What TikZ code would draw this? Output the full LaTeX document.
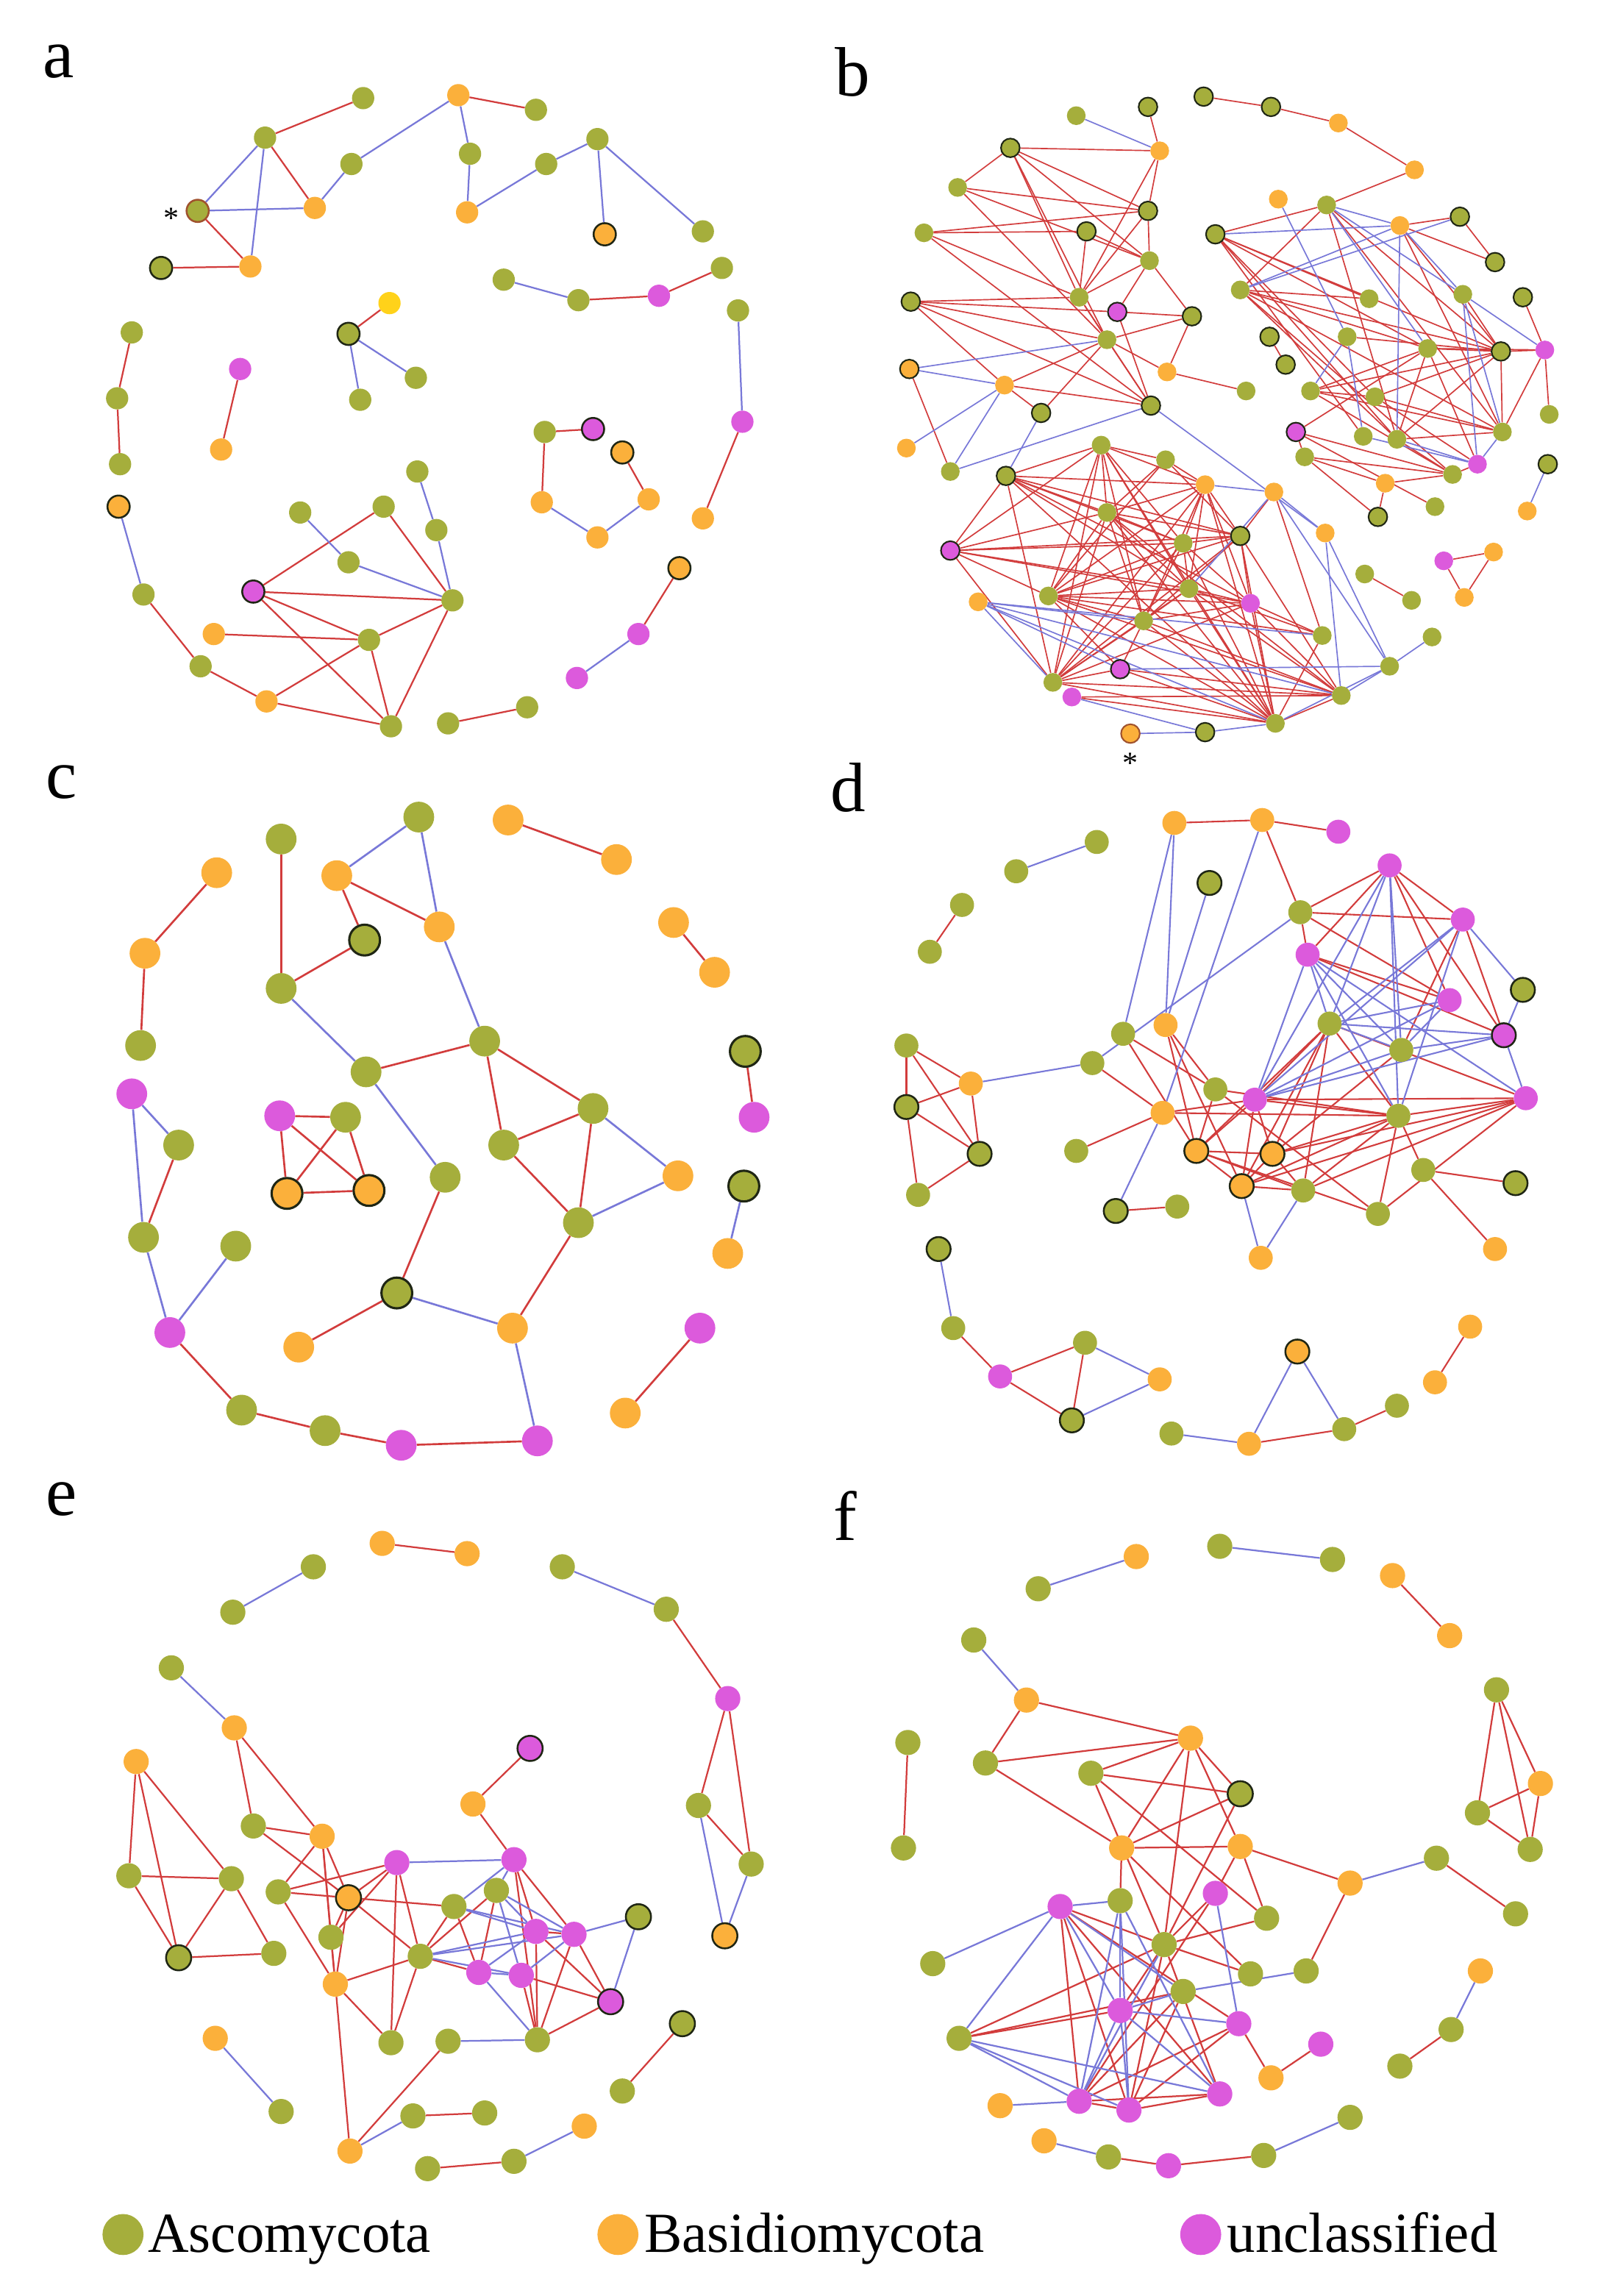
\documentclass[tikz,border=0pt]{standalone}
\usepackage{fontspec}
\setmainfont{Liberation Serif}
\definecolor{asc}{HTML}{A5AE3C}
\definecolor{bas}{HTML}{FBB03B}
\definecolor{unc}{HTML}{DC5ADC}
\definecolor{yel}{HTML}{FFD21A}
\definecolor{redE}{HTML}{D23C3C}
\definecolor{bluE}{HTML}{7878D8}
\definecolor{darkO}{HTML}{1F2614}
\definecolor{brownO}{HTML}{A0522D}
\pgfdeclarelayer{back}
\pgfdeclarelayer{edges}
\pgfsetlayers{back,edges,main}
\tikzset{
  nd/.style={circle,inner sep=0pt,minimum size=0.8cm},
  nA/.style={nd,fill=asc},
  nB/.style={nd,fill=bas},
  nU/.style={nd,fill=unc},
  nY/.style={nd,fill=yel},
  nAo/.style={nd,fill=asc,draw=darkO,line width=1.8pt},
  nBo/.style={nd,fill=bas,draw=darkO,line width=1.8pt},
  nUo/.style={nd,fill=unc,draw=darkO,line width=1.8pt},
  nAr/.style={nd,fill=asc,draw=brownO,line width=1.8pt},
  nBr/.style={nd,fill=bas,draw=brownO,line width=1.8pt},
  re/.style={draw=redE,line width=1.6pt},
  be/.style={draw=bluE,line width=1.6pt},
  plab/.style={font=\fontsize{68}{70}\selectfont,inner sep=0pt},
  lgt/.style={font=\fontsize{55}{60}\selectfont,inner sep=0pt},
  star/.style={font=\fontsize{30}{30}\selectfont,inner sep=0pt}
}
\newcommand\PanelNodes[1]{\foreach \n/\x/\y/\s in {#1}{\edef\tmp{\noexpand\node[\s] (\n) at (\x,\y) {};}\tmp}}
\newcommand\RedEdges[1]{\foreach \u/\v in {#1}{\draw[re] (\u) -- (\v);}}
\newcommand\BlueEdges[1]{\foreach \u/\v in {#1}{\draw[be] (\u) -- (\v);}}
\begin{document}
\begin{tikzpicture}[x=0.05cm,y=-0.05cm]
\useasboundingbox (0,0) rectangle (1093,1568);
\begin{pgfonlayer}{back}
\fill[white] (0,0) rectangle (1093,1568);
\end{pgfonlayer}

% panel labels
\node[plab] (la) at (40,42) {a};
\node[plab] (lb) at (582,49) {b};
\node[plab] (lc) at (42,534) {c};
\node[plab] (ld) at (579,538) {d};
\node[plab] (le) at (42,1024) {e};
\node[plab] (lf) at (577,1035) {f};

% ---------------- panel a
\begin{scope}[nd/.append style={minimum size=0.76cm}, re/.append style={line width=1.6pt}, be/.append style={line width=1.6pt}]
\PanelNodes{a1/248/67/nA,a2/313/65/nB,a3/366/75/nA,a4/181/94/nA,a5/240/112/nA,a6/321/105/nA,a7/373/112/nA,a8/408/95/nA,a9/135/144/nAr,a10/215/142/nB,a11/319/145/nB,a12/413/160/nBo,a13/480/158/nA,a14/110/183/nAo,a15/171/182/nB,a16/344/191/nA,a17/395/205/nA,a18/450/202/nU,a19/493/183/nA,a20/266/207/nY,a21/238/228/nAo,a22/90/227/nA,a23/164/252/nU,a24/284/258/nA,a25/246/273/nA,a26/504/212/nA,a27/80/272/nA,a28/151/307/nB,a29/372/295/nA,a30/405/293/nUo,a31/425/309/nBo,a32/507/288/nU,a33/82/317/nA,a34/285/322/nA,a35/81/346/nBo,a36/370/343/nB,a37/443/341/nB,a38/205/350/nA,a39/262/346/nA,a40/298/362/nA,a41/480/354/nB,a42/408/367/nB,a43/238/384/nA,a44/173/404/nUo,a45/309/410/nA,a46/98/406/nA,a47/464/388/nBo,a48/146/433/nB,a49/252/437/nA,a50/436/433/nU,a51/137/455/nA,a52/394/463/nU,a53/182/479/nB,a54/360/483/nA,a55/306/494/nA,a56/267/496/nA}
\begin{pgfonlayer}{edges}
\RedEdges{a1/a4,a2/a3,a4/a10,a9/a15,a14/a15,a18/a17,a18/a19,a32/a41,a20/a21,a23/a28,a22/a27,a27/a33,a29/a30,a29/a36,a37/a31,a46/a51,a51/a53,a53/a56,a53/a49,a39/a44,a39/a45,a44/a45,a44/a49,a44/a56,a48/a49,a49/a45,a49/a56,a45/a56,a55/a54,a47/a50}
\BlueEdges{a2/a5,a2/a6,a4/a9,a4/a15,a9/a10,a5/a10,a6/a11,a11/a7,a7/a8,a8/a12,a8/a13,a16/a17,a26/a32,a21/a24,a21/a25,a36/a42,a42/a37,a35/a46,a38/a43,a43/a45,a34/a40,a40/a45,a50/a52}
\end{pgfonlayer}
\node[star] (sa) at (117,149) {*};
\end{scope}

% ---------------- panel b
\begin{scope}[nd/.append style={minimum size=0.64cm}, re/.append style={line width=1.2pt}, be/.append style={line width=1.2pt}, nAo/.append style={line width=1.5pt}, nUo/.append style={line width=1.5pt}, nBo/.append style={line width=1.5pt}, nBr/.append style={line width=1.5pt}]
\PanelNodes{b1/735/79/nA,b2/784/73/nAo,b3/822/66/nAo,b4/868/73/nAo,b5/914/84/nB,b6/966/116/nB,b7/792/103/nB,b8/690/101/nAo,b9/654/128/nA,b10/784/144/nAo,b11/742/158/nAo,b12/631/159/nA,b13/785/178/nA,b14/737/203/nA,b15/622/206/nAo,b16/763/213/nUo,b17/814/216/nAo,b18/756/232/nA,b19/621/252/nBo,b20/686/263/nB,b21/797/254/nB,b22/851/267/nA,b23/711/282/nAo,b24/786/277/nAo,b25/619/306/nB,b26/649/322/nA,b27/873/136/nB,b28/906/140/nA,b29/830/160/nAo,b30/956/154/nB,b31/997/148/nAo,b32/1021/179/nAo,b33/847/198/nA,b34/935/204/nA,b35/999/201/nA,b36/1040/203/nAo,b37/867/230/nAo,b38/920/230/nA,b39/975/238/nA,b40/1025/240/nAo,b41/1055/239/nU,b42/878/249/nAo,b43/895/267/nA,b44/939/271/nA,b45/1058/283/nA,b46/885/295/nUo,b47/931/298/nA,b48/954/300/nA,b49/1026/295/nA,b50/891/312/nA,b51/1009/317/nU,b52/1057/317/nAo,b53/946/330/nB,b54/992/324/nA,b55/980/346/nA,b56/941/353/nAo,b57/1043/349/nB,b58/752/304/nA,b59/796/314/nA,b60/687/325/nAo,b61/823/331/nB,b62/870/336/nB,b63/756/350/nA,b64/808/371/nA,b65/847/366/nAo,b66/905/364/nB,b67/649/376/nUo,b68/986/383/nU,b69/1020/377/nB,b70/932/392/nA,b71/716/407/nA,b72/812/402/nA,b73/668/411/nB,b74/854/412/nU,b75/1000/408/nB,b76/964/410/nA,b77/781/424/nA,b78/903/434/nA,b79/978/435/nA,b80/765/457/nUo,b81/949/455/nA,b82/719/466/nA,b83/732/476/nU,b84/916/475/nA,b85/871/494/nA,b86/823/500/nAo,b87/772/501/nBr}
\begin{pgfonlayer}{edges}
\RedEdges{b3/b4,b4/b5,b5/b6,b6/b28,b2/b7,b8/b7,b8/b9,b8/b10,b8/b13,b8/b14,b8/b18,b9/b10,b9/b13,b9/b18,b12/b11,b12/b10,b12/b14,b12/b24,b7/b10,b7/b14,b10/b13,b10/b14,b11/b14,b11/b13,b13/b14,b13/b16,b13/b17,b15/b14,b15/b16,b15/b18,b15/b20,b15/b24,b16/b17,b16/b24,b14/b18,b14/b24,b17/b18,b17/b21,b18/b20,b18/b23,b18/b24,b18/b21,b19/b26,b20/b24,b20/b23,b21/b22}
\RedEdges{b28/b29,b28/b33,b28/b40,b28/b49,b28/b48,b29/b34,b29/b39,b29/b40,b29/b48,b29/b47,b29/b44,b30/b31,b30/b32,b30/b40,b30/b49,b31/b32,b33/b34,b33/b39,b33/b40,b33/b48,b33/b54,b33/b49,b35/b40,b36/b41,b41/b39,b41/b40,b41/b45,b41/b49,b37/b42,b38/b40,b39/b40,b39/b43,b39/b48,b39/b46,b39/b51,b40/b43,b40/b48,b40/b49,b40/b44,b43/b44,b43/b49,b43/b54,b44/b49,b44/b51,b46/b50,b46/b54,b46/b55,b48/b49,b48/b54,b50/b54,b50/b53,b50/b56,b53/b54,b53/b56,b51/b54,b68/b69,b69/b75,b75/b68,b76/b70}
\RedEdges{b58/b60,b58/b59,b58/b61,b58/b63,b58/b64,b58/b71,b58/b72,b58/b82,b58/b85,b58/b77,b59/b61,b59/b63,b59/b71,b59/b65,b60/b61,b60/b63,b60/b64,b60/b65,b60/b72,b60/b74,b60/b67,b60/b82,b60/b85,b61/b63,b61/b64,b61/b65,b61/b71,b61/b72,b61/b77,b61/b82,b61/b85,b61/b74,b62/b78,b63/b64,b63/b65,b63/b71,b63/b72,b63/b77,b63/b82,b63/b85,b63/b84,b64/b65,b64/b67,b64/b71,b64/b72,b64/b74,b64/b77,b64/b82,b64/b85,b65/b67,b65/b71,b65/b77,b65/b82,b65/b84,b65/b85,b65/b74,b67/b58,b67/b63,b67/b71,b67/b72,b67/b82,b67/b74,b71/b72,b71/b74,b71/b77,b71/b80,b71/b84,b71/b85,b71/b78,b72/b74,b72/b77,b72/b82,b72/b84,b72/b85,b72/b78,b74/b77,b74/b82,b74/b84,b74/b85,b74/b78,b77/b82,b77/b84,b77/b85,b77/b80,b80/b84,b80/b85,b82/b84,b82/b85,b82/b80,b83/b84,b83/b85,b84/b85,b85/b78,b62/b65}
\BlueEdges{b1/b7,b19/b18,b19/b20,b20/b25,b20/b26,b23/b60,b24/b26,b24/b66,b27/b38,b28/b30,b28/b35,b28/b39,b29/b30,b30/b33,b30/b35,b30/b48,b31/b33,b35/b41,b35/b49,b35/b51,b38/b43,b38/b47,b47/b51,b48/b51,b49/b51,b52/b57,b61/b62,b62/b66,b62/b81,b66/b84,b66/b81,b73/b82,b73/b84,b73/b80,b73/b85,b73/b77,b73/b78,b80/b81,b81/b84,b81/b85,b81/b79,b83/b86,b86/b85,b87/b86,b72/b62}
\end{pgfonlayer}
\node[star] (sb) at (772,521) {*};
\end{scope}

% ---------------- panel c
\begin{scope}[nd/.append style={minimum size=1.05cm}, re/.append style={line width=1.9pt}, be/.append style={line width=1.9pt}, nAo/.append style={line width=2.2pt}, nBo/.append style={line width=2.2pt}]
\PanelNodes{c1/286/558/nA,c2/347/560/nB,c3/192/573/nA,c4/421/587/nB,c5/230/598/nB,c6/148/596/nB,c7/300/633/nB,c8/249/642/nAo,c9/460/630/nB,c10/99/651/nB,c11/488/664/nB,c12/192/675/nA,c13/331/711/nA,c14/96/714/nA,c15/509/718/nAo,c16/250/732/nA,c17/90/747/nU,c18/191/762/nU,c19/236/763/nA,c20/405/757/nA,c21/515/763/nU,c22/122/782/nA,c23/344/782/nA,c24/304/804/nA,c25/463/803/nB,c26/508/810/nAo,c27/196/815/nBo,c28/252/813/nBo,c29/98/845/nA,c30/395/835/nA,c31/161/851/nA,c32/497/856/nB,c33/271/883/nAo,c34/116/910/nU,c35/350/907/nB,c36/478/907/nU,c37/204/920/nB,c38/427/965/nB,c39/165/963/nA,c40/222/977/nA,c41/274/987/nU,c42/367/984/nU}
\begin{pgfonlayer}{edges}
\RedEdges{c5/c7,c5/c8,c3/c12,c12/c8,c16/c13,c13/c23,c13/c20,c23/c20,c23/c30,c20/c30,c30/c35,c24/c33,c33/c37,c2/c4,c9/c11,c6/c10,c10/c14,c22/c29,c34/c39,c39/c40,c40/c41,c41/c42,c15/c21,c36/c38,c18/c19,c18/c27,c18/c28,c19/c27,c19/c28,c27/c28}
\BlueEdges{c1/c5,c1/c7,c12/c16,c7/c13,c16/c24,c20/c25,c30/c25,c35/c42,c33/c35,c17/c22,c17/c29,c29/c34,c31/c34,c26/c32}
\end{pgfonlayer}
\end{scope}

% ---------------- panel d
\begin{scope}[nd/.append style={minimum size=0.82cm}, re/.append style={line width=1.5pt}, be/.append style={line width=1.5pt}]
\PanelNodes{d1/802/562/nB,d2/862/560/nB,d3/914/568/nU,d4/749/575/nA,d5/694/595/nA,d6/949/591/nU,d7/826/603/nAo,d8/657/618/nA,d9/888/623/nA,d10/999/628/nU,d11/635/650/nA,d12/893/652/nU,d13/1040/676/nAo,d14/990/683/nU,d15/796/700/nB,d16/767/706/nA,d17/908/699/nA,d18/1027/707/nUo,d19/619/714/nA,d20/957/717/nA,d21/746/726/nA,d22/663/740/nB,d23/830/744/nA,d24/857/751/nU,d25/1042/750/nU,d26/619/756/nAo,d27/794/760/nB,d28/955/762/nA,d29/735/786/nA,d30/817/786/nBo,d31/869/788/nBo,d32/669/788/nAo,d33/972/799/nA,d34/1035/808/nAo,d35/848/810/nBo,d36/890/813/nA,d37/627/816/nA,d38/762/827/nAo,d39/804/824/nA,d40/941/829/nA,d41/1021/853/nB,d42/861/859/nB,d43/641/853/nAo,d44/651/907/nA,d45/1004/906/nB,d46/741/917/nA,d47/886/923/nBo,d48/683/940/nU,d49/792/942/nB,d50/980/944/nB,d51/954/960/nA,d52/732/970/nAo,d53/918/976/nA,d54/800/979/nA,d55/853/986/nB}
\begin{pgfonlayer}{edges}
\RedEdges{d1/d2,d2/d3,d8/d11,d2/d9,d9/d6,d9/d10,d9/d14,d9/d12,d6/d12,d6/d10,d6/d18,d6/d14,d10/d18,d10/d20,d12/d14,d12/d18,d17/d24,d17/d30,d17/d35,d17/d31,d17/d28,d17/d25,d17/d36,d20/d31,d24/d25,d24/d28,d24/d30,d24/d35,d24/d31,d25/d28,d25/d31,d25/d35,d25/d40,d25/d36,d28/d31,d28/d35,d28/d36,d28/d33,d28/d40,d28/d23,d15/d23,d15/d30,d15/d35,d16/d23,d16/d30,d21/d27,d23/d30,d23/d40,d27/d29,d27/d24,d27/d28,d30/d31,d30/d35,d30/d36,d30/d40,d31/d35,d31/d36,d35/d36,d33/d34,d33/d41,d38/d39,d19/d22,d19/d26,d19/d32,d22/d26,d22/d32,d26/d32,d26/d37,d32/d37,d44/d48,d48/d46,d48/d52,d46/d52,d55/d53,d53/d51,d50/d45}
\BlueEdges{d4/d5,d1/d16,d1/d15,d2/d27,d7/d15,d9/d21,d21/d22,d6/d17,d6/d24,d6/d28,d6/d20,d10/d13,d10/d17,d10/d24,d10/d28,d12/d24,d12/d28,d12/d20,d12/d25,d12/d17,d13/d18,d14/d20,d14/d17,d14/d24,d17/d18,d17/d20,d18/d20,d18/d25,d18/d24,d20/d24,d27/d38,d35/d42,d36/d42,d43/d44,d46/d49,d52/d49,d47/d55,d47/d53,d54/d55}
\end{pgfonlayer}
\end{scope}

% ---------------- panel e
\begin{scope}[nd/.append style={minimum size=0.86cm}, re/.append style={line width=1.6pt}, be/.append style={line width=1.6pt}]
\PanelNodes{e1/261/1054/nB,e2/319/1061/nB,e3/214/1070/nA,e4/384/1070/nA,e5/159/1101/nA,e6/455/1099/nA,e7/117/1139/nA,e8/497/1160/nU,e9/160/1180/nB,e10/362/1194/nUo,e11/93/1203/nB,e12/323/1232/nB,e13/477/1233/nA,e14/173/1247/nA,e15/220/1254/nB,e16/271/1272/nU,e17/351/1270/nU,e18/513/1273/nA,e19/88/1281/nA,e20/158/1283/nA,e21/190/1292/nA,e22/339/1291/nA,e23/238/1296/nBo,e24/310/1302/nA,e25/436/1309/nAo,e26/366/1319/nU,e27/392/1321/nU,e28/226/1323/nA,e29/495/1322/nBo,e30/287/1336/nA,e31/122/1337/nAo,e32/187/1334/nA,e33/327/1347/nU,e34/356/1349/nU,e35/229/1355/nB,e36/417/1367/nUo,e37/466/1382/nAo,e38/147/1392/nB,e39/267/1395/nA,e40/306/1394/nA,e41/367/1393/nA,e42/425/1428/nA,e43/192/1442/nA,e44/282/1445/nA,e45/331/1443/nA,e46/399/1452/nB,e47/239/1469/nB,e48/351/1476/nA,e49/292/1481/nA}
\begin{pgfonlayer}{edges}
\RedEdges{e1/e2,e6/e8,e8/e13,e8/e18,e13/e18,e9/e14,e9/e15,e11/e19,e11/e31,e11/e20,e19/e20,e19/e31,e20/e31,e20/e32,e31/e32,e14/e15,e14/e23,e15/e21,e15/e23,e15/e35,e15/e28,e21/e16,e21/e23,e23/e16,e23/e24,e23/e30,e23/e28,e23/e35,e16/e30,e16/e28,e10/e12,e12/e17,e17/e27,e17/e41,e17/e26,e22/e30,e22/e33,e24/e30,e24/e33,e30/e35,e30/e39,e30/e33,e26/e27,e26/e41,e26/e36,e27/e36,e27/e41,e34/e36,e34/e41,e36/e41,e28/e35,e35/e39,e35/e47,e40/e47,e44/e45,e37/e42,e48/e49,e21/e35,e16/e39}
\BlueEdges{e3/e5,e4/e6,e13/e29,e18/e29,e7/e9,e16/e17,e17/e22,e17/e24,e22/e26,e22/e27,e22/e34,e24/e26,e24/e27,e30/e26,e30/e27,e30/e34,e26/e33,e27/e25,e27/e34,e33/e34,e33/e41,e25/e36,e40/e41,e47/e44,e38/e43,e46/e48}
\end{pgfonlayer}
\end{scope}

% ---------------- panel f
\begin{scope}[nd/.append style={minimum size=0.86cm}, re/.append style={line width=1.6pt}, be/.append style={line width=1.6pt}]
\PanelNodes{f1/833/1056/nA,f2/776/1063/nB,f3/910/1065/nA,f4/951/1076/nB,f5/709/1085/nA,f6/990/1117/nB,f7/665/1120/nA,f8/1022/1154/nA,f9/701/1161/nB,f10/620/1190/nA,f11/813/1187/nB,f12/673/1204/nA,f13/745/1211/nA,f14/1052/1218/nB,f15/847/1225/nAo,f16/1009/1238/nA,f17/617/1262/nA,f18/766/1262/nB,f19/847/1261/nB,f20/1045/1263/nA,f21/981/1269/nA,f22/922/1286/nB,f23/724/1302/nU,f24/765/1298/nA,f25/830/1293/nU,f26/865/1310/nA,f27/1035/1307/nA,f28/795/1328/nA,f29/637/1341/nA,f30/854/1348/nA,f31/892/1346/nA,f32/808/1360/nA,f33/1011/1346/nB,f34/765/1373/nU,f35/846/1382/nU,f36/655/1392/nA,f37/991/1386/nA,f38/902/1396/nU,f39/956/1411/nA,f40/868/1419/nB,f41/833/1430/nU,f42/683/1438/nB,f43/737/1435/nU,f44/771/1441/nU,f45/922/1446/nA,f46/713/1462/nB,f47/757/1473/nA,f48/798/1479/nU,f49/863/1472/nA}
\begin{pgfonlayer}{edges}
\RedEdges{f4/f6,f9/f11,f9/f12,f12/f11,f12/f18,f13/f11,f13/f15,f13/f26,f13/f28,f11/f15,f11/f18,f11/f19,f11/f28,f18/f19,f18/f15,f15/f28,f19/f22,f19/f26,f19/f25,f18/f24,f18/f30,f22/f31,f21/f27,f17/f10,f8/f16,f8/f20,f8/f14,f16/f14,f16/f20,f14/f20,f23/f43,f23/f44,f23/f28,f23/f41,f23/f35,f25/f28,f25/f43,f28/f26,f28/f36,f28/f34,f28/f41,f28/f44,f28/f30,f32/f43,f32/f44,f36/f34,f36/f32,f35/f40,f35/f43,f35/f44,f40/f38,f43/f44,f43/f41,f44/f41,f47/f48,f48/f49,f37/f39}
\BlueEdges{f5/f2,f1/f3,f7/f9,f22/f21,f23/f24,f23/f29,f23/f36,f23/f34,f23/f32,f24/f34,f24/f44,f24/f41,f24/f43,f25/f35,f28/f43,f32/f31,f32/f34,f34/f35,f34/f41,f34/f43,f34/f44,f36/f43,f36/f44,f36/f41,f42/f43,f46/f47,f49/f45,f37/f33}
\end{pgfonlayer}
\end{scope}

% ---------------- legend
\node[nd,fill=asc,minimum size=1.4cm] (lg1) at (84,1526) {};
\node[lgt,anchor=base west] (lt1) at (101,1538) {Ascomycota};
\node[nd,fill=bas,minimum size=1.4cm] (lg2) at (422,1526) {};
\node[lgt,anchor=base west] (lt2) at (440,1538) {Basidiomycota};
\node[nd,fill=unc,minimum size=1.4cm] (lg3) at (820,1526) {};
\node[lgt,anchor=base west] (lt3) at (838,1538) {unclassified};
\end{tikzpicture}
\end{document}
